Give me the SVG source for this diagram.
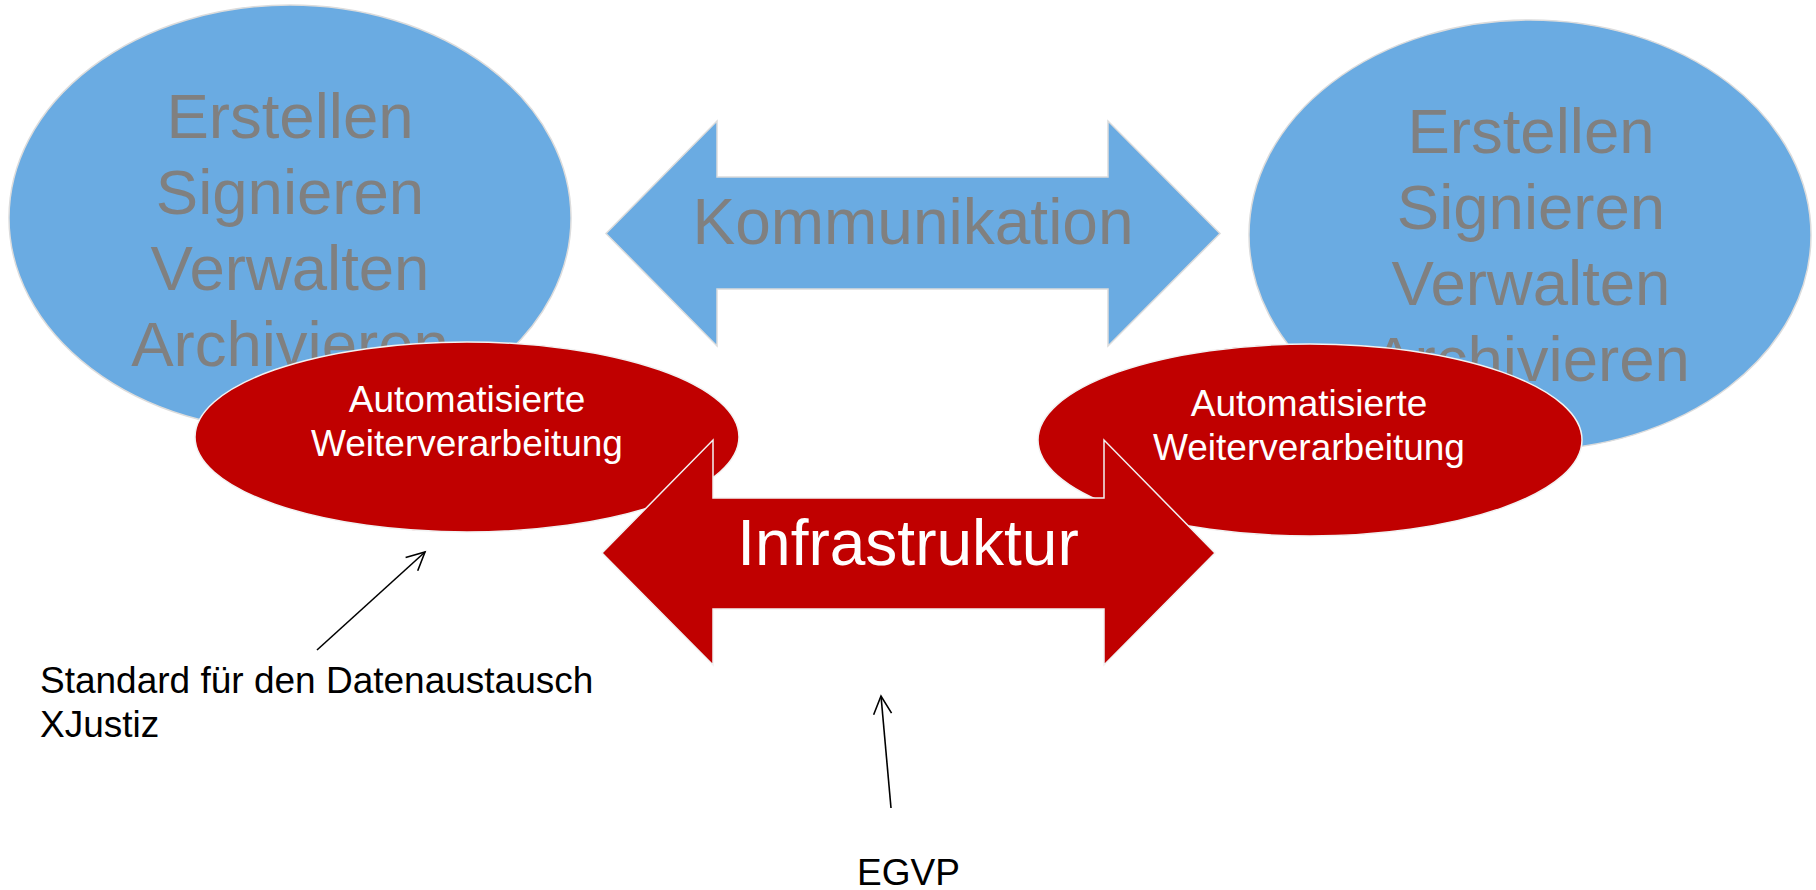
<svg xmlns="http://www.w3.org/2000/svg" width="1816" height="890" viewBox="0 0 1816 890">
<style>
.blue{fill:#6aabe2;stroke:#dcdcdc;stroke-width:1.5}
.red{fill:#c00000;stroke:#f2f2f2;stroke-width:1.5}
.big{font-family:"Liberation Sans",Arial,sans-serif;font-size:63.5px;fill:#808080;text-anchor:middle}
.mid{font-family:"Liberation Sans",Arial,sans-serif;font-size:37px;fill:#ffffff;text-anchor:middle}
.note{font-family:"Liberation Sans",Arial,sans-serif;font-size:37px;fill:#000000}
.infra{font-family:"Liberation Sans",Arial,sans-serif;font-size:64px;fill:#ffffff;text-anchor:middle}
.con{stroke:#000;stroke-width:1.6;fill:none}
</style>
<defs>
<marker id="open" markerUnits="userSpaceOnUse" viewBox="-22 -12 24 24" refX="0" refY="0" markerWidth="24" markerHeight="24" orient="auto" overflow="visible">
<path d="M-18,-9 L0,0 L-18,9" fill="none" stroke="#000" stroke-width="1.6"/>
</marker>
</defs>
<rect width="1816" height="890" fill="#ffffff"/>
<g id="ellipse-left">
<ellipse class="blue" cx="290" cy="218" rx="281" ry="213"/>
<text class="big" x="290" y="138">Erstellen</text>
<text class="big" x="290" y="214">Signieren</text>
<text class="big" x="290" y="290">Verwalten</text>
<text class="big" x="290" y="366">Archivieren</text>
</g>
<g id="ellipse-right">
<ellipse class="blue" cx="1530" cy="235" rx="281" ry="215"/>
<text class="big" x="1531" y="153">Erstellen</text>
<text class="big" x="1531" y="229">Signieren</text>
<text class="big" x="1531" y="305">Verwalten</text>
<text class="big" x="1531" y="381">Archivieren</text>
</g>
<g id="kommunikation">
<path class="blue" d="M606,233.5 L717,121 L717,177 L1108,177 L1108,121 L1220,233.5 L1108,346 L1108,289 L717,289 L717,346 Z"/>
<text class="big" x="913" y="244" style="font-size:64px">Kommunikation</text>
</g>
<g id="weiter-left">
<ellipse class="red" cx="467" cy="437" rx="272" ry="95"/>
<text class="mid" x="467" y="412">Automatisierte</text>
<text class="mid" x="467" y="456">Weiterverarbeitung</text>
</g>
<g id="weiter-right">
<ellipse class="red" cx="1310" cy="440" rx="272" ry="96"/>
<text class="mid" x="1309" y="416">Automatisierte</text>
<text class="mid" x="1309" y="460">Weiterverarbeitung</text>
</g>
<g id="infrastruktur">
<path class="red" d="M602,553 L713,440 L713,498 L1104,498 L1104,440 L1215,553 L1104,665 L1104,609 L713,609 L713,665 Z"/>
<text class="infra" x="908" y="565">Infrastruktur</text>
</g>
<g id="label-xjustiz">
<text class="note" x="40" y="693">Standard für den Datenaustausch</text>
<text class="note" x="40" y="737">XJustiz</text>
</g>
<g id="label-egvp">
<text class="note" x="857" y="885">EGVP</text>
</g>
<g id="connectors">
<line class="con" x1="317" y1="650" x2="425" y2="552" marker-end="url(#open)"/>
<line class="con" x1="891" y1="808" x2="881" y2="696" marker-end="url(#open)"/>
</g>
</svg>
